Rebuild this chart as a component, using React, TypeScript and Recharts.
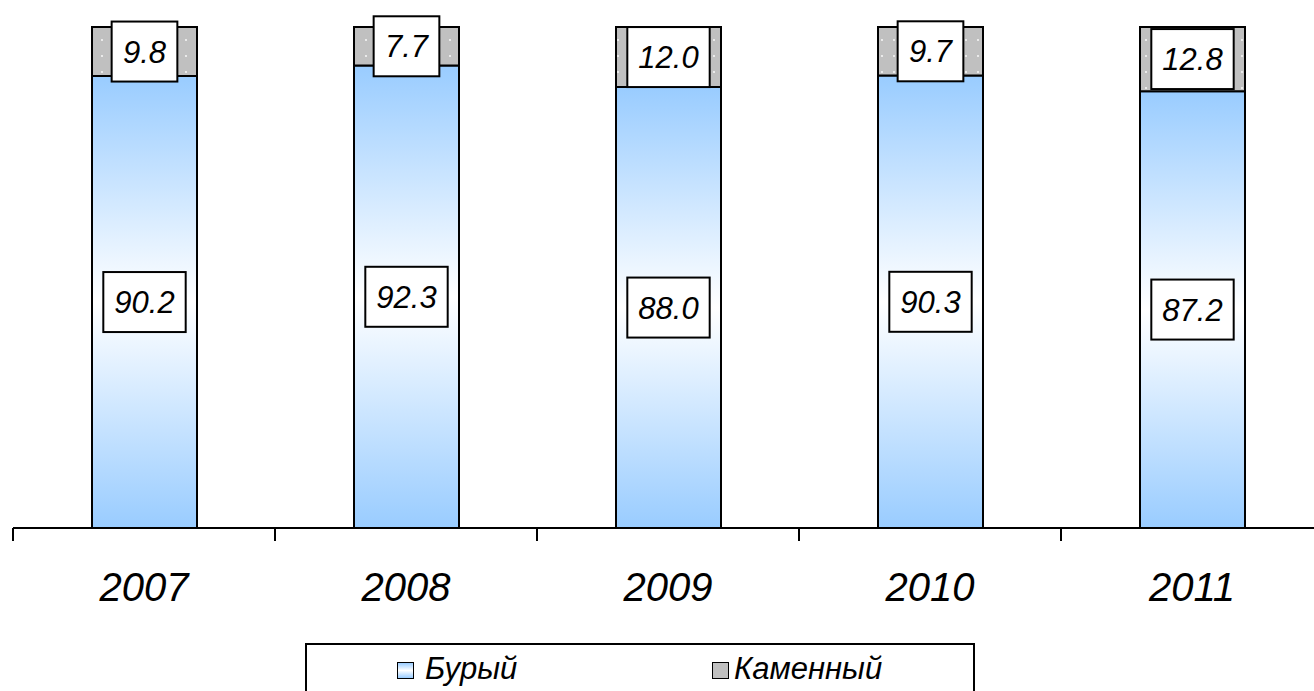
import React from "react";
import { BarChart, Bar, XAxis, YAxis, Legend, LabelList } from "recharts";

const years = ["2007", "2008", "2009", "2010", "2011"];
const brownCoal = [90.2, 92.3, 88.0, 90.3, 87.2];
const hardCoal = [9.8, 7.7, 12.0, 9.7, 12.8];

const data = years.map((year, i) => ({
  year,
  brown: brownCoal[i],
  hard: hardCoal[i],
}));

const FONT = "'Liberation Sans', Arial, sans-serif";
const CHART_W = 1340;
const CHART_H = 691;
const MARGIN = { top: 27, right: 17, left: 13, bottom: 0 };
const BAND = (CHART_W - MARGIN.left - MARGIN.right) / years.length;

// rough Arial advance widths, em units
const textWidth = (s: string, size: number) =>
  s.split("").reduce((w, c) => w + (c === "." ? 0.278 : 0.556), 0) * size;

const ValueBox = (props: any) => {
  const { x, y, width, height, value } = props;
  const text = Number(value).toFixed(1);
  const cx = x + width / 2;
  const cy = y + height / 2;
  const w = textWidth(text, 30) + 24;
  const h = 60;
  return (
    <g>
      <rect x={cx - w / 2} y={cy - h / 2} width={w} height={h} fill="#fff" stroke="#000" strokeWidth={2} />
      <text
        x={cx}
        y={cy + 11}
        textAnchor="middle"
        fontFamily={FONT}
        fontStyle="italic"
        fontSize={31}
        fill="#000"
      >
        {text}
      </text>
    </g>
  );
};

const YearTick = (props: any) => {
  const { x, y, payload, index } = props;
  const left = x - BAND / 2;
  return (
    <g>
      <line x1={left} y1={y} x2={left} y2={y + 13} stroke="#000" strokeWidth={2} />
      {index === years.length - 1 && (
        <line x1={x + BAND / 2} y1={y} x2={x + BAND / 2} y2={y + 13} stroke="#000" strokeWidth={2} />
      )}
      <text
        x={x}
        y={y + 73}
        textAnchor="middle"
        fontFamily={FONT}
        fontStyle="italic"
        fontSize={40}
        fill="#000"
      >
        {payload.value}
      </text>
    </g>
  );
};

const swatch = (background: string, gap: number) => (
  <span
    style={{
      display: "inline-block",
      flex: "none",
      width: 15,
      height: 15,
      border: "1px solid #000",
      background,
      marginRight: gap,
      marginTop: 2,
    }}
  />
);

const LegendBox = () => (
  <div
    style={{
      width: 666,
      height: 60,
      border: "2px solid #000",
      background: "#fff",
      position: "relative",
      fontFamily: FONT,
      fontStyle: "italic",
      fontSize: 31,
      lineHeight: "36px",
    }}
  >
    <div style={{ position: "absolute", left: 90, top: 6, display: "flex", alignItems: "center" }}>
      {swatch("linear-gradient(#99ccff, #ffffff 50%, #99ccff)", 11)}
      Бурый
    </div>
    <div style={{ position: "absolute", left: 405, top: 6, display: "flex", alignItems: "center" }}>
      {swatch("#c0c0c0", 5)}
      Каменный
    </div>
  </div>
);

export default function App() {
  return (
    <div style={{ position: "absolute", left: 0, top: 0, width: 1314, height: 691, overflow: "hidden", background: "#fff" }}>
      <BarChart width={CHART_W} height={CHART_H} data={data} margin={MARGIN}>
        <defs>
          <linearGradient id="brownFill" x1="0" y1="0" x2="0" y2="1">
            <stop offset="0%" stopColor="#99ccff" />
            <stop offset="50%" stopColor="#ffffff" />
            <stop offset="100%" stopColor="#99ccff" />
          </linearGradient>
          <pattern id="hardFill" width="12" height="16" patternUnits="userSpaceOnUse">
            <rect width="12" height="16" fill="#c0c0c0" />
            <circle cx="6" cy="8" r="0.9" fill="#ffffff" />
          </pattern>
        </defs>
        <XAxis
          dataKey="year"
          height={CHART_H - 528}
          axisLine={{ stroke: "#000", strokeWidth: 2 }}
          tickLine={false}
          tickSize={0}
          tickMargin={0}
          tick={<YearTick />}
          interval={0}
        />
        <YAxis hide domain={[0, 100]} />
        <Legend
          layout="horizontal"
          verticalAlign="middle"
          align="center"
          wrapperStyle={{ left: 305, top: 643, width: 670, height: 64 }}
          content={<LegendBox />}
        />
        <Bar dataKey="brown" name="Бурый" stackId="a" barSize={105} fill="url(#brownFill)" stroke="#000" strokeWidth={2} isAnimationActive={false}>
          <LabelList dataKey="brown" content={<ValueBox />} />
        </Bar>
        <Bar dataKey="hard" name="Каменный" stackId="a" barSize={105} fill="url(#hardFill)" stroke="#000" strokeWidth={2} isAnimationActive={false}>
          <LabelList dataKey="hard" content={<ValueBox />} />
        </Bar>
      </BarChart>
    </div>
  );
}
